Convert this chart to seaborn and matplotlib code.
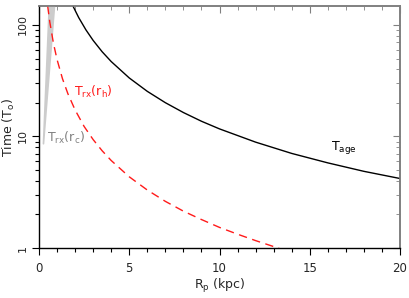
import numpy as np
import pandas as pd
import seaborn as sns
import matplotlib
matplotlib.use("Agg")
import matplotlib.pyplot as plt
from matplotlib.ticker import MultipleLocator, LogLocator, NullFormatter, FixedLocator

# ---- data ----
# T_age (black solid)
age_R = [1.88, 2.2, 2.6, 3.0, 3.5, 4.0, 5.0, 6.0, 7.0, 8.0, 9.0, 10.0, 12.0, 14.0, 16.0, 18.0, 20.0]
age_T = [148, 116.5, 90.4, 72.7, 57.5, 47.0, 33.5, 25.4, 20.1, 16.4, 13.7, 11.7, 8.9, 7.05, 5.8, 4.87, 4.2]
# T_rx(r_h) (red dashed)
rh_R = [0.48, 0.6, 0.8, 1.0, 1.3, 1.6, 2.0, 2.5, 3.0, 3.5, 4.0, 5.0, 6.0, 7.0, 8.0, 9.0, 10.0, 11.0, 12.0, 13.0, 13.3]
rh_T = [148, 105.8, 68.6, 49.0, 33.0, 24.2, 17.3, 12.3, 9.38, 7.44, 6.09, 4.35, 3.31, 2.62, 2.14, 1.80, 1.53, 1.33, 1.165, 1.03, 1.0]
# T_rx(r_c) (light grey band)
rc_T = [8.7, 148]
rc_R_low = [0.22, 0.54]
rc_R_high = [0.22, 0.83]

labels = {"age": "T$_{\\rm age}$", "rh": "T$_{\\rm rx}$(r$_{\\rm h}$)", "rc": "T$_{\\rm rx}$(r$_{\\rm c}$)"}
xticks = [0, 5, 10, 15, 20]
yticks = [1, 10, 100]
ytick_labels = ["1", "10", "100"]

sns.set_style("ticks")
plt.rcParams['font.family'] = ['DejaVu Sans']
plt.rcParams['mathtext.fontset'] = 'dejavusans'

fig = plt.figure(figsize=(4.09, 2.98), dpi=100)
ax = fig.add_axes([39/409, 1-248/298, (400-39)/409, (248-6)/298])

df_age = pd.DataFrame({"R": age_R, "T": age_T})
df_rh = pd.DataFrame({"R": rh_R, "T": rh_T})

ax.fill_betweenx(rc_T, rc_R_low, rc_R_high, color="#cccccc", lw=1.2, edgecolor="#cccccc")
sns.lineplot(data=df_age, x="R", y="T", ax=ax, color="black", lw=1.0, sort=False, estimator=None)
sns.lineplot(data=df_rh, x="R", y="T", ax=ax, color="#ff1a1a", lw=1.0, sort=False, estimator=None,
             dashes=False, linestyle=(0, (6, 4)))

ax.set_yscale("log")
ax.set_xlim(0, 20)
ax.set_ylim(1, 148)

ax.xaxis.set_major_locator(FixedLocator(xticks))
ax.xaxis.set_minor_locator(MultipleLocator(1))
ax.yaxis.set_major_locator(FixedLocator(yticks))
ax.set_yticklabels(ytick_labels, rotation=90, va="center")
ax.yaxis.set_minor_locator(LogLocator(base=10, subs=np.arange(2, 10)))
ax.yaxis.set_minor_formatter(NullFormatter())

ax.tick_params(which="major", direction="out", length=5, width=0.8, labelsize=8.5, color="black")
ax.tick_params(which="minor", direction="out", length=3, width=0.8, color="black")
ax.tick_params(axis="x", which="major", pad=5)
ax.tick_params(axis="y", which="major", pad=3, labelsize=8)

for s in ["left", "bottom"]:
    ax.spines[s].set_color("black")
    ax.spines[s].set_linewidth(1.0)
for s in ["top", "right"]:
    ax.spines[s].set_visible(True)
    ax.spines[s].set_color("#808080")
    ax.spines[s].set_linewidth(1.2)

secx = ax.secondary_xaxis("top")
secx.xaxis.set_major_locator(FixedLocator(xticks))
secx.xaxis.set_minor_locator(MultipleLocator(1))
secx.tick_params(which="major", direction="in", length=5, color="#808080", labeltop=False)
secx.tick_params(which="minor", direction="in", length=3, color="#808080")
secx.spines["top"].set_color("#808080")
secx.spines["top"].set_linewidth(1.2)

secy = ax.secondary_yaxis("right")
secy.yaxis.set_major_locator(FixedLocator(yticks))
secy.yaxis.set_minor_locator(LogLocator(base=10, subs=np.arange(2, 10)))
secy.yaxis.set_minor_formatter(NullFormatter())
secy.tick_params(which="major", direction="in", length=5, color="#808080", labelright=False)
secy.tick_params(which="minor", direction="in", length=3, color="#808080")
secy.spines["right"].set_color("#808080")
secy.spines["right"].set_linewidth(1.2)

ax.set_xlabel("R$_{\\rm p}$ (kpc)", fontsize=9)
ax.xaxis.set_label_coords(0.5, -0.12)
ax.set_ylabel("Time (T$_{\\rm o}$)", fontsize=9)
ax.yaxis.set_label_coords(-0.061, 0.5)

ax.text(3.0, 25, labels["rh"], color="#ff1a1a", fontsize=9, ha="center", va="center")
ax.text(1.5, 9.7, labels["rc"], color="#808080", fontsize=9, ha="center", va="center")
ax.text(16.9, 8.0, labels["age"], color="black", fontsize=9, ha="center", va="center")

fig.savefig("out.png", dpi=100)
